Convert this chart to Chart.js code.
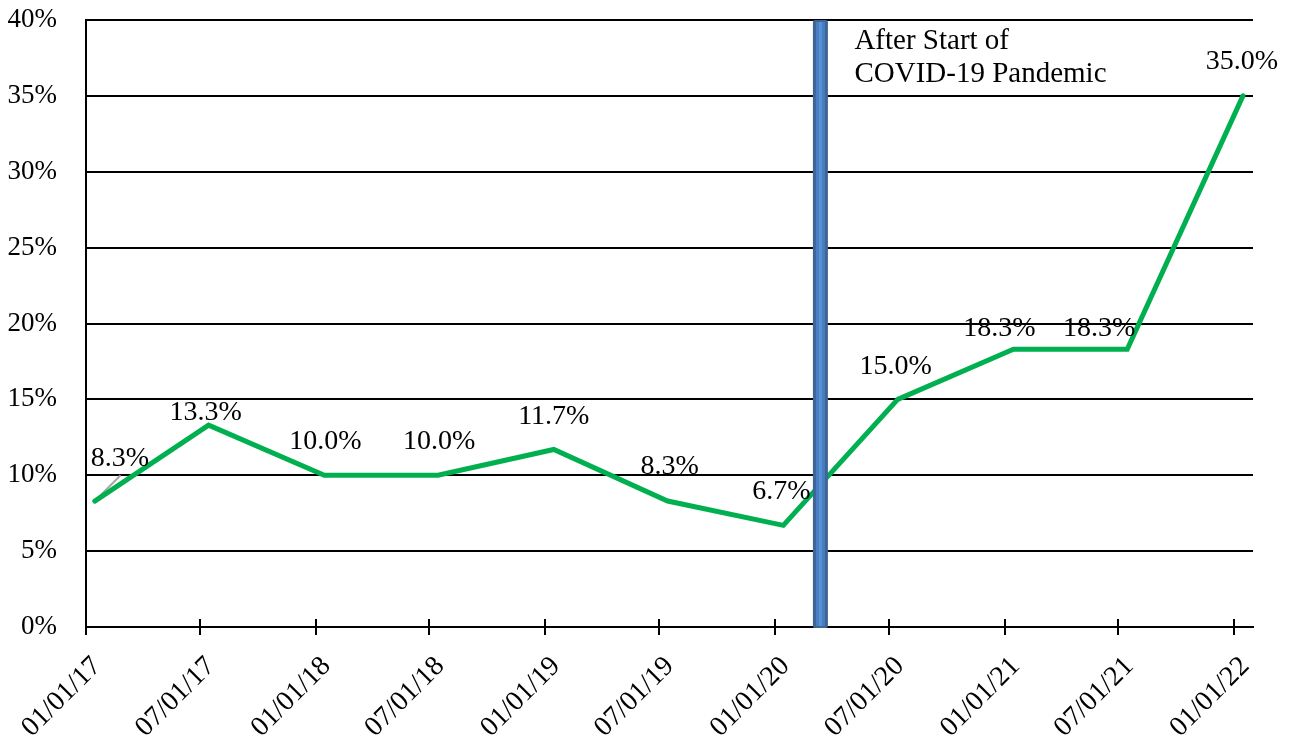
<!DOCTYPE html>
<html>
<head>
<meta charset="utf-8">
<script src="https://cdn.jsdelivr.net/npm/chart.js@4.4.1/dist/chart.umd.min.js"></script>
<style>
  html, body { margin: 0; padding: 0; background: #ffffff; }
  #wrap { width: 1293px; height: 739px; position: relative; }
</style>
</head>
<body>
<div id="wrap"><canvas id="c"></canvas></div>
<script>
// Survey points (mid-month) and the share reported at each
const pointDates = ['2017-01-15', '2017-07-15', '2018-01-15', '2018-07-15', '2019-01-15',
                    '2019-07-15', '2020-01-15', '2020-07-15', '2021-01-15', '2021-07-15', '2022-01-15'];
const shareValues = [8.3, 13.3, 10.0, 10.0, 11.7, 8.3, 6.7, 15.0, 18.3, 18.3, 35.0];

// Short grey base segment under the first leg of the line
const baseDates = ['2017-01-15', '2017-02-25'];
const baseValues = [8.3, 10.0];

// X axis: semi-annual ticks
const tickDates = ['2017-01-01', '2017-07-01', '2018-01-01', '2018-07-01', '2019-01-01', '2019-07-01',
                   '2020-01-01', '2020-07-01', '2021-01-01', '2021-07-01', '2022-01-01'];
const tickLabels = ['01/01/17', '07/01/17', '01/01/18', '07/01/18', '01/01/19', '07/01/19',
                    '01/01/20', '07/01/20', '01/01/21', '07/01/21', '01/01/22'];
const axisStart = '2017-01-01';
const axisEnd = '2022-01-31';

// Y axis range (percent)
const yMin = 0, yMax = 40, yStep = 5;

// Marker for the start of the pandemic
const pandemicDate = '2020-03-14';
const annotationLines = ['After Start of', 'COVID-19 Pandemic'];

// Label nudges (px) relative to each point: [dx, dy]
const labelShift = [[25, -42], [-3, -13], [1, -34], [1, -34], [0, -33], [2, -34],
                    [-2, -34], [-2, -33], [-14, -21], [-28, -21], [-1, -34]];

const SERIF = '"Liberation Serif", "Times New Roman", "DejaVu Serif", serif';
const DAY = 86400000;
const t0 = Date.parse(axisStart + 'T00:00:00Z');
const dayOf = s => (Date.parse(s + 'T00:00:00Z') - t0) / DAY;

const overlay = {
  id: 'overlay',
  afterDatasetsDraw(chart) {
    const { ctx, chartArea, scales } = chart;
    const x = scales.x, y = scales.y;

    // crossing tick marks on the date axis
    ctx.save();
    ctx.strokeStyle = '#000';
    ctx.lineWidth = 2;
    const yAxis = y.getPixelForValue(yMin);
    tickDates.forEach(d => {
      const px = Math.round(x.getPixelForValue(dayOf(d)));
      ctx.beginPath();
      ctx.moveTo(px, yAxis - 8);
      ctx.lineTo(px, yAxis + 8);
      ctx.stroke();
    });
    ctx.restore();

    // pandemic bar
    const cx = x.getPixelForValue(dayOf(pandemicDate));
    const top = y.getPixelForValue(yMax);
    const bottom = y.getPixelForValue(yMin);
    ctx.save();
    ctx.fillStyle = '#3D6596';
    ctx.beginPath();
    ctx.roundRect(cx - 7.5, top, 15, bottom - top + 1, 2);
    ctx.fill();
    ctx.fillStyle = '#4A7EC2';
    ctx.fillRect(cx - 4.5, top + 2, 9, bottom - top - 3);
    ctx.fillStyle = '#5791D7';
    ctx.fillRect(cx - 1.5, top + 2, 3, bottom - top - 3);
    ctx.restore();

    // value labels
    const meta = chart.getDatasetMeta(1);
    ctx.save();
    ctx.fillStyle = '#000';
    ctx.font = '28px ' + SERIF;
    ctx.textAlign = 'center';
    ctx.textBaseline = 'middle';
    meta.data.forEach((pt, i) => {
      const [dx, dy] = labelShift[i];
      ctx.fillText(shareValues[i].toFixed(1) + '%', pt.x + dx, pt.y + dy);
    });
    ctx.restore();

    // annotation text
    ctx.save();
    ctx.fillStyle = '#000';
    ctx.font = '29px ' + SERIF;
    ctx.textAlign = 'left';
    ctx.textBaseline = 'alphabetic';
    annotationLines.forEach((line, i) => {
      ctx.fillText(line, cx + 34, chartArea.top + 29 + i * 33);
    });
    ctx.restore();
  }
};

new Chart(document.getElementById('c'), {
  type: 'line',
  data: {
    datasets: [
      {
        label: 'base',
        data: baseDates.map((d, i) => ({ x: dayOf(d), y: baseValues[i] })),
        borderColor: '#A6A6A6',
        borderWidth: 2,
        pointRadius: 0,
        order: 2
      },
      {
        label: 'share',
        data: pointDates.map((d, i) => ({ x: dayOf(d), y: shareValues[i] })),
        borderColor: '#00B050',
        borderWidth: 5,
        pointRadius: 0,
        borderCapStyle: 'round',
        borderJoinStyle: 'miter',
        tension: 0,
        order: 1
      }
    ]
  },
  options: {
    responsive: true,
    maintainAspectRatio: false,
    animation: false,
    layout: { padding: { top: 20, right: 40, left: 0, bottom: 0 } },
    plugins: { legend: { display: false }, tooltip: { enabled: false } },
    scales: {
      x: {
        type: 'linear',
        min: 0,
        max: dayOf(axisEnd),
        afterBuildTicks: s => { s.ticks = tickDates.map(d => ({ value: dayOf(d) })); },
        afterFit: s => { s.height = 112; s.paddingLeft = 0; s.paddingRight = 0; },
        grid: { drawOnChartArea: false, drawTicks: false },
        border: { display: true, color: '#000', width: 2 },
        ticks: {
          autoSkip: false,
          maxRotation: 45,
          minRotation: 45,
          padding: 23,
          labelOffset: 11,
          color: '#000',
          font: { family: SERIF, size: 28 },
          callback: (v, i) => tickLabels[i]
        }
      },
      y: {
        min: yMin,
        max: yMax,
        afterFit: s => { s.width = 86; s.paddingTop = 0; s.paddingBottom = 0; },
        grid: { color: '#000', lineWidth: 2, drawTicks: false },
        border: { color: '#000', width: 2 },
        ticks: {
          stepSize: yStep,
          padding: 29,
          color: '#000',
          font: { family: SERIF, size: 27 },
          callback: v => v + '%'
        }
      }
    }
  },
  plugins: [overlay]
});
</script>
</body>
</html>
